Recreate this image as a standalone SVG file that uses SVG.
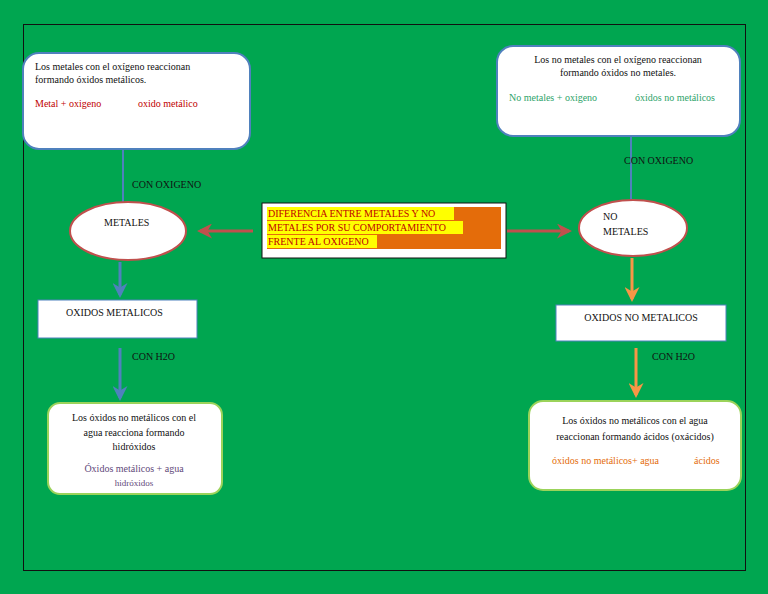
<svg xmlns="http://www.w3.org/2000/svg" width="768" height="594" viewBox="0 0 768 594">
<defs>
<style>
text{font-family:"Liberation Serif",serif;font-size:10px;fill:#111}
.box{fill:#fff;stroke:#4f81bd;stroke-width:2}
.gbox{fill:#fff;stroke:#9bd35a;stroke-width:2}
.ell{fill:#fff;stroke:#c0504d;stroke-width:2}
</style>
<marker id="ar" viewBox="0 0 10 10" refX="8" refY="5" markerWidth="5" markerHeight="5" orient="auto"><path d="M0,0 L10,5 L0,10 L3,5z" fill="context-stroke"/></marker>
</defs>
<rect width="768" height="594" fill="#00a650"/>
<rect x="23.5" y="24.5" width="722" height="546" fill="none" stroke="#111" stroke-width="1"/>
<g id="connectors" fill="none">
<line x1="123" y1="150" x2="123" y2="205" stroke="#4f81bd" stroke-width="2"/>
<line x1="631" y1="137" x2="631" y2="200" stroke="#4f81bd" stroke-width="2"/>
<line x1="253" y1="231" x2="200" y2="231" stroke="#c0504d" stroke-width="3" marker-end="url(#ar)"/>
<line x1="507" y1="231" x2="569" y2="231" stroke="#c0504d" stroke-width="3" marker-end="url(#ar)"/>
<line x1="120" y1="262" x2="120" y2="295" stroke="#4f81bd" stroke-width="3" marker-end="url(#ar)"/>
<line x1="632" y1="258" x2="632" y2="299" stroke="#f79646" stroke-width="3" marker-end="url(#ar)"/>
<line x1="120" y1="348" x2="120" y2="398" stroke="#4f81bd" stroke-width="3" marker-end="url(#ar)"/>
<line x1="636" y1="348" x2="636" y2="395" stroke="#f79646" stroke-width="3" marker-end="url(#ar)"/>
<line x1="109" y1="116" x2="133" y2="116" stroke="#c00000" stroke-width="1" marker-end="url(#ar)"/>
<line x1="600" y1="102" x2="620" y2="102" stroke="#4f81bd" stroke-width="1" marker-end="url(#ar)"/>
<line x1="117" y1="459" x2="131" y2="459" stroke="#9bbb59" stroke-width="2" marker-end="url(#ar)"/>
<line x1="683" y1="461" x2="695" y2="461" stroke="#4bacc6" stroke-width="2" marker-end="url(#ar)"/>
</g>
<g id="n1"><rect class="box" x="23" y="53" width="227" height="96" rx="16"/>
<text x="35" y="70">Los metales con el  oxígeno  reaccionan</text>
<text x="35" y="83">formando óxidos metálicos.</text>
<text x="35" y="107" fill="#c00000" style="fill:#c00000">Metal + oxigeno</text>
<text x="138" y="107" style="fill:#c00000">oxido metálico</text></g>
<text x="132" y="188">CON  OXIGENO</text>
<g id="n2"><rect class="box" x="497" y="46" width="243" height="90" rx="16"/>
<text x="618" y="63" text-anchor="middle">Los no metales con el oxígeno reaccionan</text>
<text x="618" y="76" text-anchor="middle">formando óxidos no metales.</text>
<text x="509" y="101" style="fill:#2ea36a">No metales + oxigeno</text>
<text x="635" y="101" style="fill:#2ea36a">óxidos  no metálicos</text></g>
<text x="624" y="164">CON OXIGENO</text>
<g id="center"><rect x="262" y="203" width="244" height="55" fill="#fff" stroke="#111"/>
<rect x="267" y="207" width="234" height="42" fill="#e46c0a"/>
<rect x="267" y="207" width="187" height="13" fill="#ffff00"/>
<rect x="267" y="221" width="196" height="13" fill="#ffff00"/>
<rect x="267" y="235" width="110" height="13" fill="#ffff00"/>
<text x="268" y="217" style="fill:#c00000">DIFERENCIA ENTRE METALES Y  NO</text>
<text x="268" y="231" style="fill:#c00000">METALES POR SU COMPORTAMIENTO</text>
<text x="268" y="245" style="fill:#c00000">FRENTE AL OXIGENO</text></g>
<g id="metales"><ellipse class="ell" cx="128" cy="231" rx="58" ry="29"/><text x="104" y="226">METALES</text></g>
<g id="nometales"><ellipse class="ell" cx="633" cy="228" rx="54" ry="28"/><text x="603" y="220">NO</text><text x="603" y="235">METALES</text></g>
<g id="om"><rect x="38" y="300" width="159" height="38" fill="#fff" stroke="#4f81bd"/><text x="66" y="316">OXIDOS METALICOS</text></g>
<g id="onm"><rect x="556" y="305" width="170" height="36" fill="#fff" stroke="#4f81bd"/><text x="641" y="321" text-anchor="middle">OXIDOS NO METALICOS</text></g>
<text x="132" y="360">CON H2O</text>
<text x="652" y="360">CON H2O</text>
<g id="hidr"><rect class="gbox" x="48" y="403" width="174" height="91" rx="12"/>
<text x="134" y="421" text-anchor="middle">Los óxidos no metálicos con el</text>
<text x="134" y="436" text-anchor="middle">agua reacciona formando</text>
<text x="134" y="450" text-anchor="middle">hidróxidos</text>
<text x="134" y="472" text-anchor="middle" style="fill:#5f497a">Óxidos metálicos + agua</text>
<text x="134" y="486" text-anchor="middle" style="fill:#5f497a;font-size:9px">hidróxidos</text></g>
<g id="acid"><rect class="gbox" x="529" y="401" width="212" height="89" rx="14"/>
<text x="635" y="424" text-anchor="middle">Los óxidos no metálicos con el agua</text>
<text x="635" y="440" text-anchor="middle">reaccionan formando ácidos (oxácidos)</text>
<text x="552" y="464" style="fill:#e46c0a">óxidos  no metálicos+ agua</text>
<text x="694" y="464" style="fill:#e46c0a">ácidos</text></g>
</svg>
